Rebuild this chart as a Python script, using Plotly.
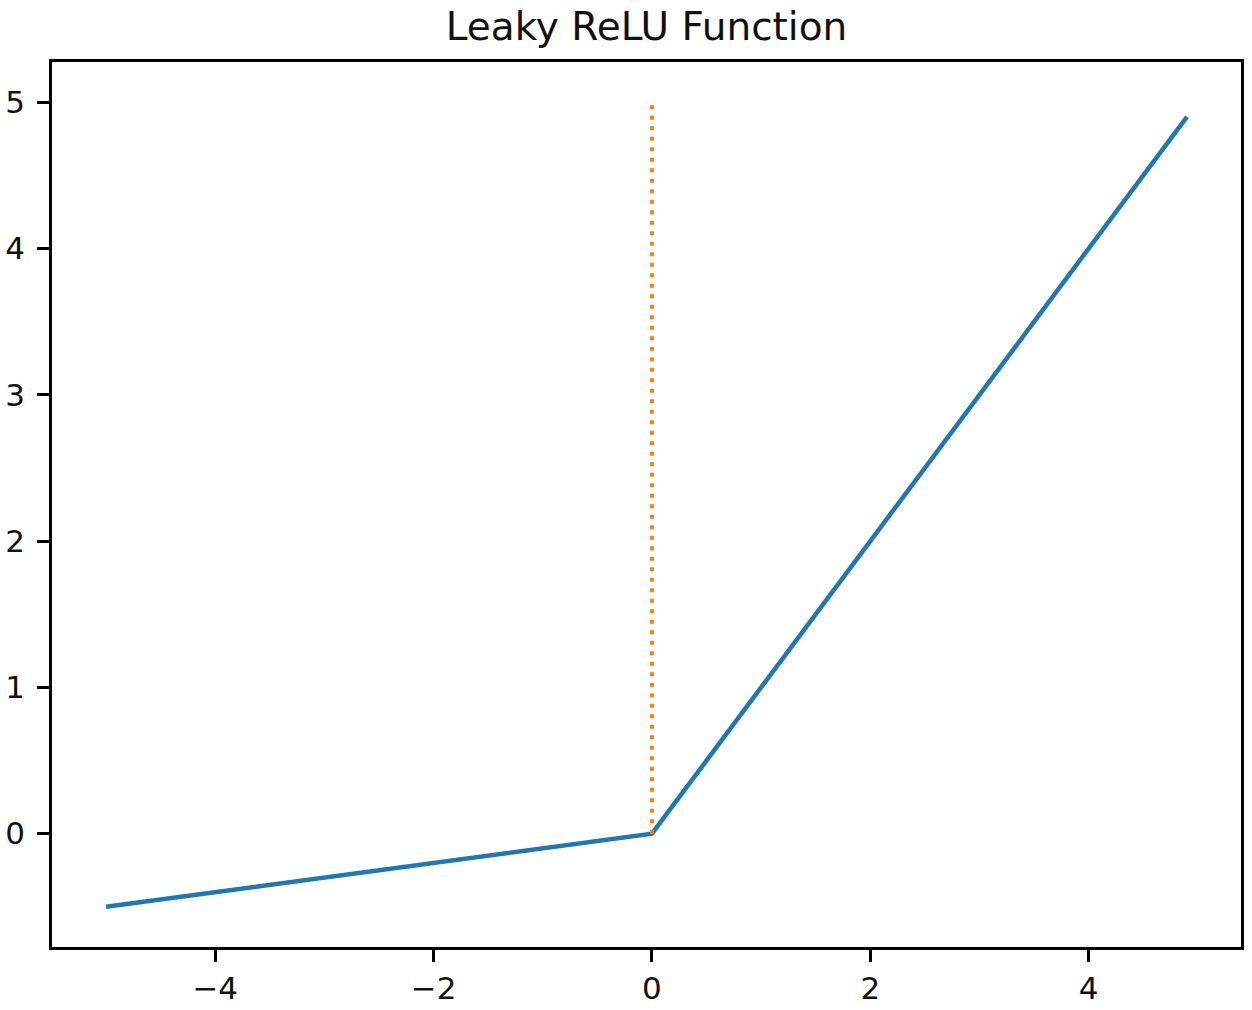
import plotly.graph_objects as go

# Leaky ReLU curve (breakpoints)
x_curve = [-5.0, 0.0, 4.9]
y_curve = [-0.5, 0.0, 4.9]

# Vertical dotted marker at x = 0
x_marker = [0.0, 0.0]
y_marker = [0.0, 5.0]

x_ticks = [-4, -2, 0, 2, 4]
y_ticks = [0, 1, 2, 3, 4, 5]

title_text = "Leaky ReLU Function"

fig = go.Figure()
fig.add_trace(go.Scatter(x=x_curve, y=y_curve, mode="lines",
                         line=dict(color="#1f77b4", width=4.5),
                         showlegend=False, hoverinfo="skip"))
fig.add_trace(go.Scatter(x=x_marker, y=y_marker, mode="lines",
                         line=dict(color="#ff7f0e", width=4, dash="4px,6.5px"),
                         showlegend=False, hoverinfo="skip"))

axis_common = dict(
    showgrid=False, zeroline=False, automargin=False,
    showline=True, linecolor="black", linewidth=2.5, mirror=True,
    ticks="outside", ticklen=12, tickwidth=2.5, tickcolor="black",
    tickfont=dict(family="DejaVu Sans", size=31, color="#111111"),
)

fig.update_layout(
    width=1252, height=1010,
    margin=dict(l=52, r=11, t=62, b=63),
    paper_bgcolor="white", plot_bgcolor="white",
    title=dict(text=title_text, x=0.5, xref="paper",
               y=1 - 26 / 1010, yref="container", yanchor="middle",
               font=dict(family="DejaVu Sans", size=39, color="#111111")),
    xaxis=dict(range=[-5.495, 5.395], tickvals=x_ticks, ticklabelstandoff=0, **axis_common),
    yaxis=dict(range=[-0.775, 5.275], tickvals=y_ticks, ticklabelstandoff=6, **axis_common),
)

fig.write_html("out.html", config={"displayModeBar": False},
               post_script="document.body.style.margin='0';")
